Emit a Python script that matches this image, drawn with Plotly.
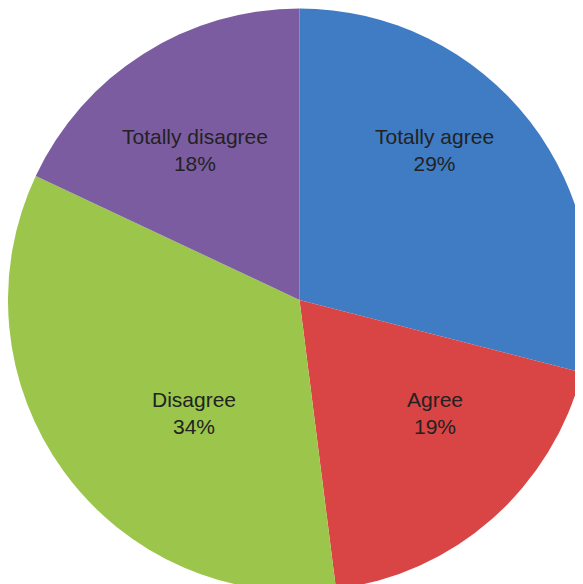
import plotly.graph_objects as go

labels = ["Totally agree", "Agree", "Disagree", "Totally disagree"]
values = [29, 19, 34, 18]
colors = ["#3f7cc4", "#d94444", "#9bc64b", "#7c5ca1"]

# label anchor positions (paper fractions) for each slice's text
label_x = [0.7324, 0.7324, 0.3182, 0.3199]
label_y = [0.7568, 0.3065, 0.3065, 0.7568]

total = sum(values)

fig = go.Figure(go.Pie(
    labels=labels,
    values=values,
    sort=False,
    direction="clockwise",
    rotation=0,
    marker=dict(colors=colors, line=dict(width=0)),
    textinfo="none",
    showlegend=False,
    hoverinfo="label+percent",
    domain=dict(x=[0, 1], y=[0, 1]),
))

annotations = []
for lab, v, x, y in zip(labels, values, label_x, label_y):
    annotations.append(dict(
        x=x, y=y, xref="paper", yref="paper",
        xanchor="center", yanchor="middle",
        text=f"{lab}<br>{round(v / total * 100)}%",
        showarrow=False,
        font=dict(family="Liberation Sans, Arial, sans-serif", size=21, color="#222222"),
        align="center",
    ))

fig.update_layout(
    width=583, height=584,
    margin=dict(l=0, r=0, t=0, b=0),
    paper_bgcolor="white",
    plot_bgcolor="white",
    annotations=annotations,
)
fig.write_html("out.html")
